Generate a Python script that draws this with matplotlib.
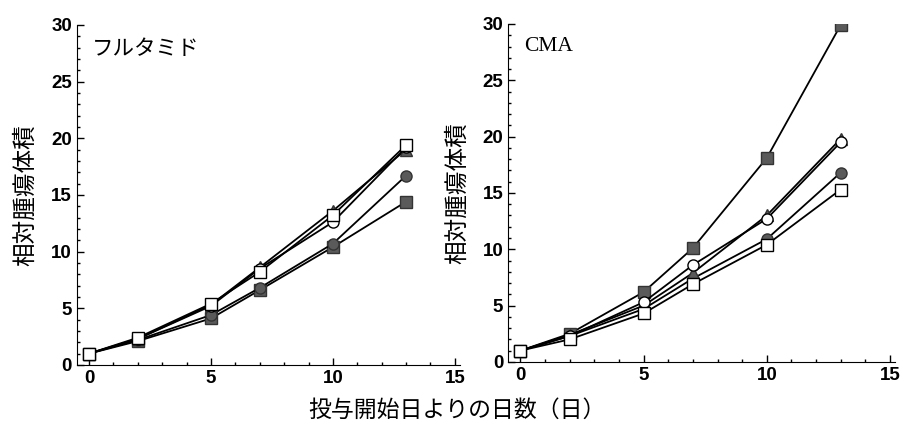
import matplotlib.pyplot as plt
from matplotlib.ticker import MultipleLocator

plt.rcParams['font.family'] = ['Liberation Sans', 'Noto Sans CJK JP']

days = [0, 2, 5, 7, 10, 13]

# フルタミド panel
flu_open_sq = [1.0, 2.4, 5.4, 8.2, 13.2, 19.4]
flu_open_ci = [1.0, 2.3, 5.2, 8.5, 12.6, 19.2]
flu_tri = [1.0, 2.3, 5.3, 8.6, 13.6, 19.0]
flu_fill_ci = [1.0, 2.2, 4.4, 6.8, 10.7, 16.7]
flu_fill_sq = [1.0, 2.1, 4.1, 6.6, 10.4, 14.4]

# CMA panel
cma_open_sq = [1.0, 2.0, 4.3, 6.9, 10.4, 15.3]
cma_open_ci = [1.0, 2.3, 5.3, 8.6, 12.7, 19.5]
cma_tri = [1.0, 2.4, 5.0, 7.9, 13.0, 19.8]
cma_fill_ci = [1.0, 2.3, 4.7, 7.4, 10.9, 16.8]
cma_fill_sq = [1.0, 2.5, 6.2, 10.1, 18.1, 29.9]

gray = '#5a5a5a'


def draw(ax, sq_o, ci_o, tri, ci_f, sq_f, title, title_font):
    ax.plot(days, sq_f, '-', color='black', lw=1.3, marker='s', ms=8,
            mfc=gray, mec='#333333')
    ax.plot(days, ci_f, '-', color='black', lw=1.3, marker='o', ms=8,
            mfc=gray, mec='#333333')
    ax.plot(days, tri, '-', color='black', lw=1.3, marker='^', ms=8,
            mfc=gray, mec='#333333')
    ax.plot(days, ci_o, '-', color='black', lw=1.3, marker='o', ms=8,
            mfc='white', mec='black')
    ax.plot(days, sq_o, '-', color='black', lw=1.3, marker='s', ms=8,
            mfc='white', mec='black')

    ax.set_xlim(-0.5, 15.2)
    ax.set_ylim(0, 30)
    ax.xaxis.set_major_locator(MultipleLocator(5))
    ax.xaxis.set_minor_locator(MultipleLocator(1))
    ax.yaxis.set_major_locator(MultipleLocator(5))
    ax.yaxis.set_minor_locator(MultipleLocator(1))
    ax.spines['top'].set_visible(False)
    ax.spines['right'].set_visible(False)
    ax.tick_params(which='both', direction='in', width=1)
    ax.tick_params(which='major', length=5, labelsize=13.5)
    ax.tick_params(which='minor', length=2.5)
    for lab in ax.get_xticklabels() + ax.get_yticklabels():
        lab.set_fontweight('bold')
    ax.set_ylabel('相対腫瘍体積', fontsize=17, family=['Noto Sans CJK JP'],
                  labelpad=10)
    ax.text(0.04, 0.96, title, transform=ax.transAxes, fontsize=15.5,
            va='top', ha='left', family=title_font)


fig = plt.figure(figsize=(9.14, 4.36), dpi=100)
ax1 = fig.add_axes([0.084, 0.163, 0.419, 0.78])
ax2 = fig.add_axes([0.556, 0.170, 0.423, 0.775])

draw(ax1, flu_open_sq, flu_open_ci, flu_tri, flu_fill_ci, flu_fill_sq,
     'フルタミド', ['Noto Sans CJK JP'])
draw(ax2, cma_open_sq, cma_open_ci, cma_tri, cma_fill_ci, cma_fill_sq,
     'CMA', ['Liberation Serif'])

fig.text(0.5, 0.06, '投与開始日よりの日数（日）', ha='center', va='center',
         fontsize=16.5, family=['Noto Sans CJK JP'])

fig.savefig('out.png', dpi=100)
